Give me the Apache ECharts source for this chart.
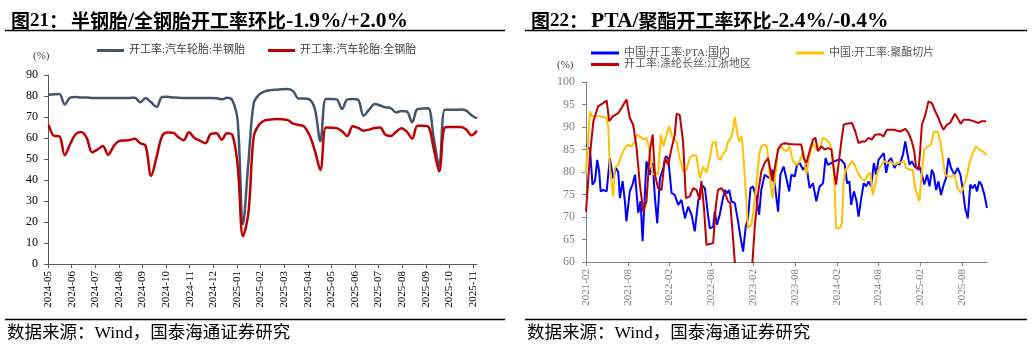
<!DOCTYPE html>
<html>
<head>
<meta charset="utf-8">
<script src="https://cdn.jsdelivr.net/npm/echarts@6/dist/echarts.min.js"></script>
<style>
html,body{margin:0;padding:0;background:#fff}
#c{width:1032px;height:345px}
</style>
</head>
<body>
<div id="c"></div>
<script>
// ---- Tyre plant run rates, weekly (%) ----
const tyreDates = [
  '2024-05-02','2024-05-09','2024-05-16','2024-05-23','2024-05-30','2024-06-06','2024-06-13','2024-06-20','2024-06-27',
  '2024-07-04','2024-07-11','2024-07-18','2024-07-25','2024-08-01','2024-08-08','2024-08-15','2024-08-22','2024-08-29',
  '2024-09-05','2024-09-12','2024-09-19','2024-09-26','2024-10-03','2024-10-10','2024-10-17','2024-10-24','2024-10-31',
  '2024-11-07','2024-11-14','2024-11-21','2024-11-28','2024-12-05','2024-12-12','2024-12-19','2024-12-26',
  '2025-01-02','2025-01-09','2025-01-16','2025-01-23','2025-01-30','2025-02-06','2025-02-13','2025-02-20','2025-02-27',
  '2025-03-06','2025-03-13','2025-03-20','2025-03-27','2025-04-03','2025-04-10','2025-04-17','2025-04-24',
  '2025-05-01','2025-05-08','2025-05-15','2025-05-22','2025-05-29','2025-06-05','2025-06-12','2025-06-19','2025-06-26',
  '2025-07-03','2025-07-10','2025-07-17','2025-07-24','2025-07-31','2025-08-07','2025-08-14','2025-08-21','2025-08-28',
  '2025-09-04','2025-09-11','2025-09-18','2025-09-25','2025-10-02','2025-10-09','2025-10-16','2025-10-23','2025-10-30',
  '2025-11-06'
];
const semiSteel = [
  80.6,80.8,81.0,76.0,79.2,79.5,79.3,79.3,79.1,
  79.0,79.0,79.1,79.0,79.0,79.0,79.1,79.2,77.0,
  79.0,77.0,74.8,79.5,79.6,79.3,79.2,79.0,79.0,
  79.0,79.0,79.0,79.0,78.9,78.4,79.2,78.0,
  68.0,19.0,48.0,76.5,80.6,82.2,82.8,83.0,83.2,
  83.3,82.2,78.8,78.8,78.4,73.8,58.5,78.6,
  78.6,78.4,73.8,78.4,78.6,78.2,70.6,73.5,76.2,
  75.5,74.6,74.2,72.2,72.8,72.6,67.5,73.8,74.0,
  74.2,60.0,46.5,73.5,73.5,73.4,73.6,73.0,70.8,
  69.3
];
const allSteel = [
  66.3,61.0,60.8,51.8,57.0,61.8,62.8,60.2,53.2,
  54.5,56.2,52.0,56.0,58.5,58.8,59.0,59.7,57.5,
  56.3,42.0,51.0,61.0,62.6,62.5,60.5,58.9,62.7,
  60.0,58.8,57.5,62.0,62.3,59.2,62.3,61.5,
  47.0,13.2,24.0,60.5,66.3,68.4,68.8,69.0,68.9,
  68.5,66.8,66.2,65.5,61.5,54.0,44.8,65.0,
  64.9,64.7,63.2,61.0,65.6,64.8,63.5,64.0,64.8,
  65.0,61.5,61.0,63.0,64.7,63.0,59.7,65.8,65.8,
  65.4,55.0,44.2,65.0,65.2,65.2,65.2,64.0,61.3,
  63.5
];
const tyreTicks = ['2024-05','2024-06','2024-07','2024-08','2024-09','2024-10','2024-11','2024-12','2025-01',
  '2025-02','2025-03','2025-04','2025-05','2025-06','2025-07','2025-08','2025-09','2025-10','2025-11'];

// ---- Polyester chain run rates (%) ----
const ptaDates = [
  '2021-02-01','2021-02-17','2021-02-27','2021-03-10','2021-03-20','2021-03-29','2021-04-04','2021-04-15','2021-04-30',
  '2021-05-14','2021-05-29','2021-06-10','2021-06-20','2021-06-27','2021-07-09','2021-07-19','2021-07-26','2021-08-10',
  '2021-08-22','2021-09-02','2021-09-16','2021-09-26','2021-10-05','2021-10-22','2021-11-06','2021-11-18','2021-11-28',
  '2021-12-08','2021-12-20','2022-01-04','2022-01-15','2022-01-26','2022-02-09','2022-02-22','2022-03-08','2022-03-23',
  '2022-04-07','2022-04-21','2022-05-06','2022-05-20','2022-06-04','2022-06-18','2022-07-03','2022-07-17','2022-07-25',
  '2022-08-09','2022-08-16','2022-08-26','2022-09-07','2022-09-18','2022-09-29','2022-10-09','2022-10-18','2022-10-28',
  '2022-11-12','2022-11-26','2022-12-06','2022-12-18','2022-12-30','2023-01-09','2023-01-20','2023-01-31','2023-02-14',
  '2023-02-25','2023-03-06','2023-03-21','2023-04-01','2023-04-12','2023-04-24','2023-05-04','2023-05-19','2023-05-29',
  '2023-06-12','2023-06-24','2023-07-06','2023-07-16','2023-07-31','2023-08-10','2023-08-22','2023-09-06','2023-09-20',
  '2023-10-04','2023-10-19','2023-11-03','2023-11-17','2023-12-02','2023-12-13','2023-12-23','2024-01-08','2024-01-22',
  '2024-02-06','2024-02-19','2024-03-05','2024-03-16','2024-03-26','2024-04-03','2024-04-15','2024-04-25','2024-05-05',
  '2024-05-17','2024-05-28','2024-06-08','2024-06-18','2024-06-29','2024-07-11','2024-07-21','2024-08-01','2024-08-13',
  '2024-08-24','2024-09-04','2024-09-14','2024-09-25','2024-10-10','2024-10-22','2024-11-01','2024-11-16','2024-11-26',
  '2024-12-05','2024-12-15','2024-12-25','2025-01-06','2025-01-18','2025-01-28','2025-02-07','2025-02-17','2025-02-28',
  '2025-03-11','2025-03-21','2025-03-30','2025-04-09','2025-04-19','2025-04-30','2025-05-12','2025-05-22','2025-06-02',
  '2025-06-13','2025-06-28','2025-07-12','2025-07-24','2025-08-03','2025-08-14','2025-08-26','2025-09-06','2025-09-16',
  '2025-09-26','2025-10-05','2025-10-15','2025-10-25','2025-11-07','2025-11-18'
];
const ptaRate = [
  86.1,85.0,77.2,78.0,82.7,80.0,75.7,76.0,75.7,
  83.1,78.6,80.9,80.0,74.2,78.0,73.5,69.0,75.7,
  77.2,79.4,70.9,73.5,64.6,82.4,79.4,82.0,74.2,
  68.6,78.6,80.9,83.5,83.1,75.3,74.9,72.7,73.8,
  69.7,72.3,70.5,66.8,73.5,77.2,76.4,70.5,67.5,
  67.8,71.2,68.3,70.5,73.5,76.0,75.3,76.0,73.5,
  73.1,69.0,65.7,62.3,67.9,69.7,76.4,76.8,74.2,
  70.5,76.0,79.4,79.0,78.6,80.5,77.2,71.2,79.4,
  81.2,78.6,75.7,79.4,79.0,81.6,82.0,80.5,81.6,
  76.4,77.5,73.5,76.8,77.5,83.1,81.6,82.0,82.4,
  82.7,82.7,81.8,77.5,77.9,72.7,75.7,73.8,70.1,
  74.2,77.5,76.8,77.9,76.8,82.0,79.4,82.7,83.5,
  84.2,79.8,82.4,83.1,80.9,82.0,81.6,83.8,86.8,
  84.2,81.6,82.4,81.2,80.9,81.2,79.4,77.2,79.4,
  76.8,80.5,79.4,76.0,77.9,74.9,77.2,78.6,83.1,
  80.9,79.4,80.9,79.4,76.4,72.0,69.7,77.2,76.4,
  77.2,75.7,77.9,77.2,74.9,72.0
];
const chipDates = [
  '2021-02-01','2021-02-17','2021-02-24','2021-04-01','2021-04-30','2021-05-07','2021-05-14','2021-05-29','2021-06-05',
  '2021-06-20','2021-07-04','2021-07-19','2021-08-03','2021-08-17','2021-09-02','2021-09-09','2021-09-23','2021-10-08',
  '2021-10-22','2021-11-06','2021-11-18','2021-12-02','2021-12-12','2021-12-24','2022-01-04','2022-01-15','2022-01-30',
  '2022-02-13','2022-03-01','2022-03-15','2022-03-30','2022-04-14','2022-04-28','2022-05-13','2022-05-28','2022-06-11',
  '2022-06-26','2022-07-10','2022-07-25','2022-08-06','2022-08-20','2022-08-30','2022-09-10','2022-09-22','2022-10-03',
  '2022-10-13','2022-10-23','2022-11-02','2022-11-12','2022-11-22','2022-12-01','2022-12-11','2022-12-18','2022-12-30',
  '2023-01-09','2023-01-24','2023-01-31','2023-02-14','2023-02-25','2023-03-06','2023-03-21','2023-04-01','2023-04-12',
  '2023-04-24','2023-05-04','2023-05-19','2023-06-02','2023-06-12','2023-06-24','2023-07-08','2023-07-23','2023-08-07',
  '2023-08-22','2023-09-06','2023-09-20','2023-10-04','2023-10-19','2023-11-03','2023-11-17','2023-12-02','2023-12-16',
  '2023-12-31','2024-01-12','2024-01-22','2024-01-29','2024-02-13','2024-02-22','2024-03-01','2024-03-08','2024-03-19',
  '2024-04-06','2024-04-18','2024-05-02','2024-05-17','2024-06-01','2024-06-15','2024-06-26','2024-07-06','2024-07-17',
  '2024-07-28','2024-08-13','2024-08-27','2024-09-11','2024-09-25','2024-10-10','2024-10-25','2024-11-09','2024-11-20',
  '2024-11-30','2024-12-15','2024-12-29','2025-01-09','2025-01-21','2025-01-28','2025-02-07','2025-02-17','2025-03-03',
  '2025-03-18','2025-03-30','2025-04-16','2025-04-27','2025-05-08','2025-05-18','2025-05-30','2025-06-13','2025-06-28',
  '2025-07-12','2025-07-27','2025-08-11','2025-08-23','2025-09-02','2025-09-16','2025-10-01','2025-10-15','2025-10-30',
  '2025-11-18'
];
const chipRate = [
  79.8,93.5,92.4,92.4,92.0,90.0,80.9,74.6,80.9,
  81.6,83.8,85.3,86.1,85.7,86.8,88.3,87.9,87.2,
  87.6,84.6,79.4,79.8,79.4,88.3,85.7,87.6,90.2,
  87.6,86.8,83.1,80.1,80.5,83.1,83.8,83.5,78.6,
  81.2,79.8,83.0,86.4,86.8,83.1,82.7,84.2,84.6,
  86.8,87.2,88.7,92.2,88.7,86.8,87.9,84.6,75.7,
  67.5,68.3,70.5,77.2,83.8,85.7,86.1,85.5,79.4,
  74.2,78.0,85.3,85.7,85.0,84.6,85.7,82.4,81.6,
  82.4,84.6,79.4,83.8,86.4,85.0,85.0,87.6,87.2,
  86.4,84.6,77.2,67.5,67.5,68.5,78.0,80.5,81.0,
  82.4,81.6,79.8,78.6,78.0,79.4,79.8,74.9,77.2,
  80.1,81.6,82.4,82.0,82.2,81.6,82.0,82.2,82.4,
  80.9,80.5,80.5,76.4,74.6,73.5,80.1,85.0,85.7,
  86.1,89.0,88.9,86.8,83.1,79.4,79.0,79.0,79.4,
  76.4,75.3,77.2,79.4,82.0,84.2,85.7,85.0,84.6,
  83.8
];
const yarnDates = [
  '2021-02-01','2021-02-17','2021-03-03','2021-03-24','2021-04-15','2021-04-30','2021-05-11','2021-05-29','2021-06-20',
  '2021-07-04','2021-07-26','2021-08-10','2021-08-25','2021-09-09','2021-09-23','2021-10-08','2021-10-22','2021-11-06',
  '2021-11-18','2021-11-28','2021-12-12','2021-12-27','2022-01-11','2022-01-26','2022-02-09','2022-02-22','2022-03-01',
  '2022-03-15','2022-03-30','2022-04-11','2022-04-28','2022-05-13','2022-05-28','2022-06-11','2022-06-18','2022-06-29',
  '2022-07-10','2022-07-25','2022-08-09','2022-08-20','2022-08-30','2022-09-14','2022-09-29','2022-10-13','2022-10-23',
  '2022-11-02','2022-11-12','2022-11-22','2023-01-22','2023-02-08','2023-02-22','2023-03-06','2023-03-21','2023-04-05',
  '2023-04-15','2023-04-24','2023-05-04','2023-05-19','2023-06-02','2023-06-16','2023-07-08','2023-08-07','2023-08-29',
  '2023-09-09','2023-09-20','2023-10-04','2023-10-19','2023-10-30','2023-11-10','2023-11-24','2023-12-09','2023-12-23',
  '2024-01-08','2024-01-22','2024-01-29','2024-02-10','2024-02-20','2024-03-01','2024-03-12','2024-03-19','2024-04-06',
  '2024-04-21','2024-05-05','2024-05-20','2024-06-04','2024-06-18','2024-07-02','2024-07-17','2024-08-08','2024-08-23',
  '2024-09-07','2024-10-06','2024-11-04','2024-11-26','2024-12-10','2024-12-25','2025-01-05','2025-01-13','2025-01-24',
  '2025-01-31','2025-02-07','2025-02-21','2025-03-06','2025-03-21','2025-04-05','2025-04-19','2025-04-30','2025-05-11',
  '2025-05-26','2025-06-09','2025-06-24','2025-07-01','2025-07-16','2025-07-26','2025-08-07','2025-08-29','2025-09-20',
  '2025-10-12','2025-10-26','2025-11-14'
];
const yarnRate = [
  71.2,83.8,91.3,94.6,95.3,95.9,91.3,92.4,93.1,
  94.2,96.1,92.0,90.5,85.3,77.2,71.2,73.5,84.6,
  88.3,79.4,76.4,76.0,83.1,81.6,85.3,88.3,92.9,
  92.7,86.8,74.2,74.6,76.4,76.0,73.8,78.0,72.0,
  63.8,64.0,64.2,72.0,76.0,76.4,75.3,73.5,73.1,
  66.8,60.0,55.0,55.0,68.3,75.7,80.1,82.0,83.1,
  80.5,78.0,80.9,85.0,86.1,86.4,86.2,86.1,86.1,
  83.1,82.0,84.6,87.2,87.6,84.6,85.7,85.0,85.3,
  85.0,79.4,77.2,82.4,86.8,90.5,90.7,90.5,90.9,
  89.0,86.4,86.8,86.8,87.6,87.2,88.3,88.4,87.9,
  89.4,89.4,89.0,89.6,88.7,86.8,84.6,80.9,80.5,
  84.6,90.5,92.7,95.7,95.3,93.5,92.0,90.5,89.4,
  90.5,90.9,92.4,92.9,91.6,90.7,91.6,91.6,91.3,
  90.9,91.3,91.3
];
const chainTicks = ['2021-02','2021-08','2022-02','2022-08','2023-02','2023-08','2024-02','2024-08','2025-02','2025-08'];

// position of a date on a month-based axis (whole numbers fall on the 1st of each month)
function monthPos(d, y0, m0) {
  const p = d.split('-').map(Number);
  const dim = new Date(p[0], p[1], 0).getDate();
  return (p[0] - y0) * 12 + (p[1] - m0) + (p[2] - 1) / dim;
}
const pairs = (dates, vals, y0, m0) => dates.map((d, i) => [monthPos(d, y0, m0), vals[i]]);

const SERIF = '"Liberation Serif","Noto Sans CJK SC",serif';
const CJK = '"Noto Sans CJK SC",sans-serif';
const LATIN = '"Liberation Serif",serif';
const tyreMax = monthPos(tyreDates[tyreDates.length - 1], 2024, 5);
const chainMax = monthPos(ptaDates[ptaDates.length - 1], 2021, 2);

// mixed-script heading styles
const headRich = {
  c: {fontFamily: CJK, fontWeight: 'bold', fontSize: 19, color: '#000', lineHeight: 24, verticalAlign: 'middle'},
  n: {fontFamily: LATIN, fontWeight: 'bold', fontSize: 19, color: '#000', lineHeight: 24, verticalAlign: 'middle'},
  l: {fontFamily: LATIN, fontWeight: 'bold', fontSize: 21.5, color: '#000', lineHeight: 24, verticalAlign: 'middle'},
  g: {width: 3, lineHeight: 24}
};
const SOURCE = '数据来源：Wind，国泰海通证券研究';

const chart = echarts.init(document.getElementById('c'), null, {renderer: 'canvas'});
chart.setOption({
  animation: false,
  backgroundColor: '#fff',
  title: [
    {text: '{c|图}{n|21}{c|：}{g| }{c|半钢胎}{l|/}{c|全钢胎开工率环比}{l|-1.9%/+2.0%}', left: 6, top: 4,
     textStyle: {rich: headRich}},
    {text: '{c|图}{n|22}{c|：}{g| }{l|PTA/}{c|聚酯开工率环比}{l|-2.4%/-0.4%}', left: 526, top: 4,
     textStyle: {rich: headRich}}
  ],
  legend: [
    {data: ['开工率:汽车轮胎:半钢胎', '开工率:汽车轮胎:全钢胎'], left: 97, top: 45, padding: 0,
     icon: 'rect', itemWidth: 27, itemHeight: 3, itemGap: 23,
     textStyle: {fontFamily: SERIF, fontSize: 11, color: '#404040'}},
    {data: ['中国:开工率:PTA:国内', '中国:开工率:聚酯切片'], left: 591, top: 47.5, padding: 0,
     icon: 'rect', itemWidth: 28, itemHeight: 3, itemGap: 66,
     textStyle: {fontFamily: SERIF, fontSize: 11, color: '#595959'}},
    {data: ['开工率:涤纶长丝:江浙地区'], left: 591, top: 59, padding: 0,
     icon: 'rect', itemWidth: 28, itemHeight: 3,
     textStyle: {fontFamily: SERIF, fontSize: 11, color: '#595959'}}
  ],
  grid: [
    {left: 48, right: 555, top: 75, bottom: 81, containLabel: false},
    {left: 586, right: 45, top: 82, bottom: 83, containLabel: false}
  ],
  xAxis: [
    {type: 'value', gridIndex: 0, min: 0, max: tyreMax,
     axisLine: {lineStyle: {color: '#595959', width: 1}},
     axisTick: {show: true, inside: false, length: 4, customValues: tyreTicks.map((t, i) => i),
                lineStyle: {color: '#595959'}},
     axisLabel: {customValues: tyreTicks.map((t, i) => i), rotate: 90, margin: 7,
                 fontFamily: SERIF, fontSize: 11, color: '#000',
                 formatter: v => tyreTicks[Math.round(v)] || ''},
     splitLine: {show: false}},
    {type: 'value', gridIndex: 1, min: 0, max: chainMax,
     axisLine: {lineStyle: {color: '#808080', width: 1}},
     axisTick: {show: true, inside: false, length: 4, customValues: chainTicks.map((t, i) => i * 6),
                lineStyle: {color: '#808080'}},
     axisLabel: {customValues: chainTicks.map((t, i) => i * 6), rotate: 90, margin: 7,
                 fontFamily: SERIF, fontSize: 11, color: '#808080',
                 formatter: v => chainTicks[Math.round(v / 6)] || ''},
     splitLine: {show: false}}
  ],
  yAxis: [
    {type: 'value', gridIndex: 0, min: 0, max: 90, interval: 10,
     axisLine: {show: true, lineStyle: {color: '#595959', width: 1}},
     axisTick: {show: true, inside: false, length: 4, lineStyle: {color: '#595959'}},
     axisLabel: {fontFamily: SERIF, fontSize: 12, color: '#000', margin: 10},
     splitLine: {show: false}},
    {type: 'value', gridIndex: 1, min: 60, max: 100, interval: 5,
     axisLine: {show: true, lineStyle: {color: '#808080', width: 1}},
     axisTick: {show: true, inside: false, length: 4, lineStyle: {color: '#808080'}},
     axisLabel: {fontFamily: SERIF, fontSize: 12, color: '#808080', margin: 11},
     splitLine: {show: false}}
  ],
  series: [
    {name: '开工率:汽车轮胎:半钢胎', type: 'line', xAxisIndex: 0, yAxisIndex: 0,
     data: pairs(tyreDates, semiSteel, 2024, 5), smooth: 0.35, showSymbol: false, symbol: 'none',
     lineStyle: {color: '#44546A', width: 2.5}, itemStyle: {color: '#44546A'}},
    {name: '开工率:汽车轮胎:全钢胎', type: 'line', xAxisIndex: 0, yAxisIndex: 0,
     data: pairs(tyreDates, allSteel, 2024, 5), smooth: 0.35, showSymbol: false, symbol: 'none',
     lineStyle: {color: '#C00000', width: 2.5}, itemStyle: {color: '#C00000'}},
    {name: '中国:开工率:PTA:国内', type: 'line', xAxisIndex: 1, yAxisIndex: 1,
     data: pairs(ptaDates, ptaRate, 2021, 2), showSymbol: false, symbol: 'none', clip: true,
     lineStyle: {color: '#0000FF', width: 2}, itemStyle: {color: '#0000FF'}},
    {name: '中国:开工率:聚酯切片', type: 'line', xAxisIndex: 1, yAxisIndex: 1,
     data: pairs(chipDates, chipRate, 2021, 2), showSymbol: false, symbol: 'none', clip: true,
     lineStyle: {color: '#FFC000', width: 2}, itemStyle: {color: '#FFC000'}},
    {name: '开工率:涤纶长丝:江浙地区', type: 'line', xAxisIndex: 1, yAxisIndex: 1,
     data: pairs(yarnDates, yarnRate, 2021, 2), showSymbol: false, symbol: 'none', clip: true,
     lineStyle: {color: '#C00000', width: 2}, itemStyle: {color: '#C00000'}}
  ],
  graphic: [
    {type: 'line', shape: {x1: 5, y1: 30.5, x2: 505, y2: 30.5}, style: {stroke: '#000', lineWidth: 1.3}},
    {type: 'line', shape: {x1: 525, y1: 30.5, x2: 1027, y2: 30.5}, style: {stroke: '#000', lineWidth: 1.3}},
    {type: 'line', shape: {x1: 5, y1: 319.5, x2: 505, y2: 319.5}, style: {stroke: '#000', lineWidth: 1.3}},
    {type: 'line', shape: {x1: 525, y1: 319.5, x2: 1027, y2: 319.5}, style: {stroke: '#000', lineWidth: 1.3}},
    {type: 'text', left: 33, top: 51,
     style: {text: '(%)', font: '11px ' + SERIF, fill: '#404040'}},
    {type: 'text', left: 557, top: 60,
     style: {text: '(%)', font: '11px ' + SERIF, fill: '#404040'}},
    {type: 'text', x: 7, y: 333,
     style: {text: SOURCE, font: '17.5px ' + SERIF, fill: '#000', verticalAlign: 'middle'}},
    {type: 'text', x: 527, y: 333,
     style: {text: SOURCE, font: '17.5px ' + SERIF, fill: '#000', verticalAlign: 'middle'}}
  ]
});
</script>
</body>
</html>
